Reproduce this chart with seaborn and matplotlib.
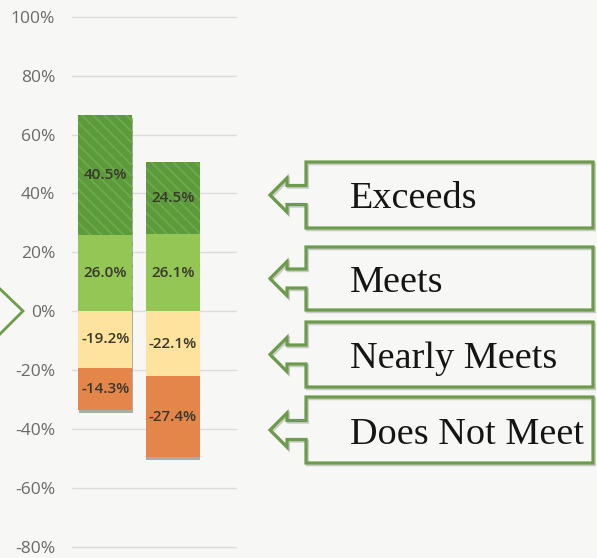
import matplotlib
matplotlib.use("Agg")
import matplotlib.pyplot as plt
import matplotlib.patheffects as pe
from matplotlib.patches import Polygon
from matplotlib.lines import Line2D
import seaborn as sns

# Performance-level shares (percent) for the two groups
groups = ["Group 1", "Group 2"]
exceeds = [40.5, 24.5]
meets = [26.0, 26.1]
nearly_meets = [-19.2, -22.1]
does_not_meet = [-14.3, -27.4]

levels = ["Exceeds", "Meets", "Nearly Meets", "Does Not Meet"]
y_ticks = [-80, -60, -40, -20, 0, 20, 40, 60, 80, 100]

W, H = 597, 558
BG = "#f7f7f5"

sns.set_theme(style="white")
plt.rcParams["font.family"] = ["Open Sans", "DejaVu Sans"]
plt.rcParams["hatch.linewidth"] = 1.2

fig = plt.figure(figsize=(W / 100, H / 100), dpi=100, facecolor=BG)


def fig_xy(x, y):
    """Pixel position (top-left origin) to figure fraction."""
    return x / W, 1 - y / H


# axes spans the gridline area
ax_l, ax_r = 71.7, 236.7
ax_t, ax_b = 13.8, 549.6
ax = fig.add_axes([ax_l / W, 1 - ax_b / H, (ax_r - ax_l) / W, (ax_b - ax_t) / H])
ax.set_facecolor(BG)

pos_total = [e + m for e, m in zip(exceeds, meets)]
neg_total = [n + d for n, d in zip(nearly_meets, does_not_meet)]

shadow = [pe.SimplePatchShadow(offset=(0.3, -2.0), shadow_rgbFace="#000000", alpha=0.30), pe.Normal()]

# outer (cumulative) bars first, inner segments drawn over them
sns.barplot(x=groups, y=pos_total, color="#5c9a3b", saturation=1, width=0.8, ax=ax,
            hatch="\\\\\\", edgecolor="#6fac4c", linewidth=0)
sns.barplot(x=groups, y=neg_total, color="#e4864a", saturation=1, width=0.8, ax=ax,
            linewidth=0)
n_outer = len(ax.patches)
for p in ax.patches[:n_outer]:
    p.set_path_effects(shadow)
sns.barplot(x=groups, y=meets, color="#93c655", saturation=1, width=0.8, ax=ax,
            linewidth=0)
sns.barplot(x=groups, y=nearly_meets, color="#fde39d", saturation=1, width=0.8, ax=ax,
            linewidth=0)

# segment value labels, centred in each segment
label_kw = dict(ha="center", va="center", fontsize=11, fontweight="semibold", color="#38392c")
for i in range(len(groups)):
    ax.text(i, meets[i] + exceeds[i] / 2, f"{exceeds[i]:.1f}%", **label_kw)
    ax.text(i, meets[i] / 2, f"{meets[i]:.1f}%", **label_kw)
    ax.text(i, nearly_meets[i] / 2, f"{nearly_meets[i]:.1f}%", **label_kw)
    ax.text(i, nearly_meets[i] + does_not_meet[i] / 2, f"{does_not_meet[i]:.1f}%", **label_kw)

ax.set_xlim(-0.5, 1.944)
ax.set_ylim(-81, 101)
ax.set_yticks(y_ticks)
ax.set_yticklabels([f"{v}%" for v in y_ticks])
ax.set_xticks([])
ax.set_xlabel("")
ax.set_ylabel("")
ax.tick_params(axis="y", length=0, pad=12, labelsize=12.5, labelcolor="#6a6a6a")
ax.grid(axis="y", color="#dcdcdc", linewidth=1)
ax.set_axisbelow(True)
for s in ax.spines.values():
    s.set_visible(False)

# callout boxes with left-pointing arrows
GREEN = "#6c9c4b"
boxes = [(162, 228), (247, 310), (322, 387), (397, 463)]
tip_x, head_x, box_x, right_x = 270, 287, 306, 593
box_shadow = [pe.SimpleLineShadow(offset=(1, -1.2), shadow_color="#000000", alpha=0.18), pe.Normal()]
for (top, bot), name in zip(boxes, levels):
    mid = (top + bot) / 2
    pts = [(tip_x, mid), (head_x, mid - 17), (head_x, mid - 9.5), (box_x, mid - 9.5),
           (box_x, top), (right_x, top), (right_x, bot), (box_x, bot),
           (box_x, mid + 9.5), (head_x, mid + 9.5), (head_x, mid + 17)]
    poly = Polygon([fig_xy(x, y) for x, y in pts], closed=True, transform=fig.transFigure,
                   facecolor="none", edgecolor=GREEN, linewidth=2.3, joinstyle="miter")
    poly.set_path_effects(box_shadow)
    fig.add_artist(poly)
    tx, ty = fig_xy(350, mid + 13.5)
    fig.text(tx, ty, name, ha="left", va="baseline", fontsize=27.5,
             family=["Liberation Serif", "DejaVu Serif"], color="#151515")

# partial chevron at the left edge, level with 0%
chev = [fig_xy(-1, 288), fig_xy(23, 311), fig_xy(-1, 335)]
fig.add_artist(Line2D([c[0] for c in chev], [c[1] for c in chev], transform=fig.transFigure,
                      color=GREEN, linewidth=2.0, solid_joinstyle="miter"))

fig.savefig("out.png", dpi=100, facecolor=BG)
